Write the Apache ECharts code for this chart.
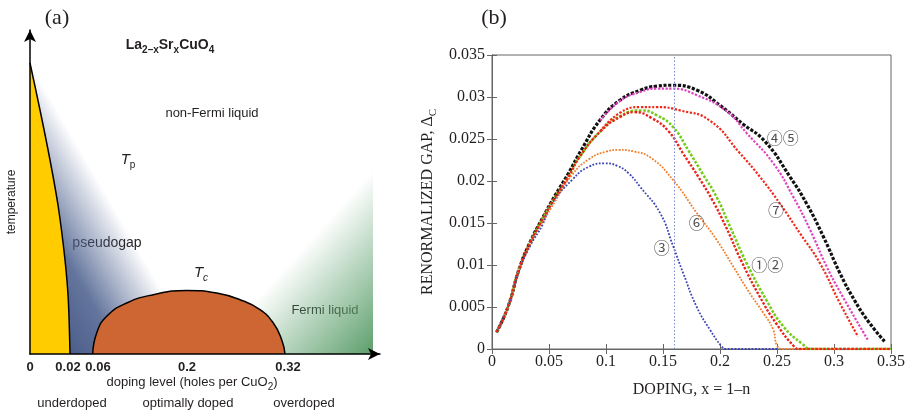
<!DOCTYPE html>
<html>
<head>
<meta charset="utf-8">
<script src="https://cdn.jsdelivr.net/npm/echarts@6/dist/echarts.min.js"></script>
<style>
  html, body { margin: 0; padding: 0; background: #fff; }
  #chart { width: 912px; height: 413px; }
</style>
</head>
<body>
<div id="chart"></div>
<script>
  // (a) schematic phase diagram - relative positions along the drawn axes
  var phaseTickPos = [0, 38, 68, 157, 258];
  var phaseTickText = ['0', '0.02', '0.06', '0.2', '0.32'];
  var afmEdge = [[0, 291], [10, 244], [20, 194], [28.3, 147], [35, 94], [38.3, 54], [40, 0]];
  var domeEdge = [[62.7, 0], [66.7, 21], [76.7, 37.7], [96.7, 51], [123.3, 59.3], [156.7, 63.6],
    [186.7, 61], [210, 54.3], [230, 44.3], [243.3, 31], [251.7, 14.3], [255, 0]];
  var pseudogapArea = [[0, 291], [10, 244], [20, 194], [28.3, 147], [35, 94], [38.3, 54], [40, 0],
    [62.7, 0], [66.7, 21], [76.7, 37.7], [96.7, 51], [123.3, 59.3], [140, 62]];
  var fermiArea = [[223, 51], [230, 44.3], [243.3, 31], [251.7, 14.3], [255, 0], [343, 0], [343, 184]];

  // (b) renormalized gap vs doping
  var optimalDoping = 0.16;
  var gapBlack = [[0.004, 0.002], [0.014, 0.005], [0.024, 0.0096], [0.034, 0.0129], [0.044, 0.0155],
    [0.055, 0.0182], [0.067, 0.0209], [0.078, 0.0236], [0.095, 0.0273], [0.112, 0.0296], [0.13, 0.0308],
    [0.145, 0.0313], [0.158, 0.0314], [0.18, 0.0308], [0.2, 0.029], [0.22, 0.0268], [0.2395, 0.0247],
    [0.2614, 0.0205], [0.276, 0.0173], [0.2906, 0.0134], [0.3053, 0.009], [0.318, 0.0058], [0.33, 0.0033],
    [0.345, 0.0008]];
  var gapMagenta = [[0.095, 0.0272], [0.112, 0.0295], [0.13, 0.0306], [0.145, 0.031], [0.158, 0.031],
    [0.18, 0.0302], [0.206, 0.0283], [0.2234, 0.0257], [0.2468, 0.0221], [0.2643, 0.0181], [0.279, 0.0142],
    [0.2936, 0.0098], [0.3053, 0.0068], [0.3296, 0.0011]];
  var gapGreen = [[0.004, 0.002], [0.014, 0.005], [0.024, 0.0096], [0.034, 0.0128], [0.044, 0.0154],
    [0.055, 0.018], [0.067, 0.0205], [0.077, 0.0229], [0.095, 0.0259], [0.112, 0.0277], [0.131, 0.0284],
    [0.145, 0.0278], [0.159, 0.0264], [0.172, 0.0237], [0.185, 0.0208], [0.197, 0.0181], [0.2087, 0.0146],
    [0.2234, 0.0102], [0.2408, 0.0058], [0.2555, 0.0027], [0.2722, 0.0006], [0.28, 0], [0.35, 0]];
  var gapOrange = [[0.004, 0.002], [0.014, 0.005], [0.024, 0.0095], [0.034, 0.0126], [0.044, 0.015],
    [0.055, 0.0175], [0.07, 0.0207], [0.085, 0.0226], [0.1, 0.0235], [0.111, 0.0237], [0.125, 0.0235],
    [0.14, 0.0227], [0.159, 0.0201], [0.1796, 0.0162], [0.197, 0.013], [0.2117, 0.0098], [0.2263, 0.0066],
    [0.238, 0.0043], [0.2467, 0.0023], [0.25, 0.0004], [0.255, 0], [0.35, 0]];
  var gapBlue = [[0.004, 0.002], [0.014, 0.005], [0.024, 0.0094], [0.034, 0.0124], [0.044, 0.0147],
    [0.052, 0.0172], [0.07, 0.0201], [0.085, 0.0217], [0.099, 0.0221], [0.11, 0.0218], [0.12, 0.0209],
    [0.13, 0.0193], [0.1474, 0.0162], [0.159, 0.0122], [0.1678, 0.009], [0.1796, 0.005], [0.1912, 0.0023],
    [0.2015, 0.0003], [0.205, 0], [0.25, 0]];
  var gapRed7 = [[0.095, 0.0259], [0.112, 0.0281], [0.13, 0.0288], [0.145, 0.0288], [0.165, 0.0284],
    [0.191, 0.0272], [0.2175, 0.0233], [0.235, 0.0205], [0.2526, 0.0173], [0.27, 0.0138], [0.2877, 0.0102],
    [0.305, 0.0055], [0.321, 0.0015]];
  var gapRed1 = [[0.004, 0.002], [0.014, 0.005], [0.024, 0.0096], [0.034, 0.0128], [0.044, 0.0154],
    [0.055, 0.018], [0.067, 0.0205], [0.077, 0.0229], [0.095, 0.0259], [0.112, 0.0276], [0.125, 0.0282],
    [0.14, 0.0275], [0.155, 0.0259], [0.168, 0.0232], [0.181, 0.0205], [0.193, 0.0178], [0.205, 0.0146],
    [0.219, 0.0104], [0.235, 0.0062], [0.249, 0.0031], [0.265, 0.0003], [0.27, 0], [0.35, 0]];
  var curveTags = [[0.2551, 0.0251, '④⑤'], [0.2491, 0.0165, '⑦'], [0.1795, 0.015, '⑥'],
    [0.1488, 0.012, '③'], [0.2415, 0.01, '①②']];

  var sans = 'Liberation Sans, Arial, sans-serif';
  var serif = 'Liberation Serif, Times New Roman, serif';
  var ink = '#231f20';
  var frame = '#666';

  function region(points, fade, stops) {
    return function (params, api) {
      if (params.dataIndex !== 0) return;
      var pts = points.map(function (p) { return api.coord(p); });
      var a = api.coord(fade[0]);
      var b = api.coord(fade[1]);
      return {
        type: 'polygon',
        shape: { points: pts },
        style: { fill: new echarts.graphic.LinearGradient(a[0], a[1], b[0], b[1], stops, true) }
      };
    };
  }

  function gapLine(name, data, color, width, dash) {
    return {
      name: name, type: 'line', xAxisIndex: 1, yAxisIndex: 1, data: data,
      showSymbol: false, smooth: 0.5, silent: true,
      lineStyle: { color: color, width: width, type: dash }
    };
  }

  function txt(x, y, text, font, extra) {
    var el = { type: 'text', x: x, y: y, style: { text: text, font: font, fill: ink, align: 'center', verticalAlign: 'middle' } };
    if (extra) {
      for (var k in extra) {
        if (k === 'rich') el.style.rich = extra[k]; else el[k] = extra[k];
      }
    }
    return el;
  }

  var subRich = {
    m: { fontSize: 14, fontFamily: sans, fontWeight: 'bold', fill: ink, verticalAlign: 'bottom', padding: [0, 0, 3, 0] },
    s: { fontSize: 10, fontFamily: sans, fontWeight: 'bold', fill: ink, verticalAlign: 'bottom' }
  };
  var tRich = {
    m: { fontSize: 15, fontFamily: sans, fontStyle: 'italic', fill: ink, verticalAlign: 'bottom', padding: [0, 0, 3, 0] },
    s: { fontSize: 10, fontFamily: sans, fill: ink, verticalAlign: 'bottom' },
    i: { fontSize: 10, fontFamily: sans, fontStyle: 'italic', fill: ink, verticalAlign: 'bottom' }
  };
  var dopRich = {
    m: { fontSize: 13, fontFamily: sans, fill: ink, verticalAlign: 'bottom', padding: [0, 0, 3, 0] },
    s: { fontSize: 10, fontFamily: sans, fill: ink, verticalAlign: 'bottom' }
  };

  var boxTick = { show: true, inside: true, length: 5, lineStyle: { color: frame } };
  var boxLine = { show: true, lineStyle: { color: frame } };

  var chart = echarts.init(document.getElementById('chart'));
  chart.setOption({
    animation: false,
    grid: [
      { left: 30, top: 30, width: 350, height: 324 },
      { left: 492, top: 55, width: 399, height: 294, show: true, borderColor: frame, borderWidth: 1, backgroundColor: 'transparent' }
    ],
    xAxis: [
      {
        gridIndex: 0, type: 'value', min: 0, max: 350, z: 10,
        axisLine: { show: true, lineStyle: { color: '#000', width: 1.5 }, symbol: ['none', 'arrow'], symbolSize: [9, 12] },
        axisTick: { show: false },
        splitLine: { show: false },
        axisLabel: {
          customValues: phaseTickPos, margin: 7, color: ink, fontFamily: sans, fontWeight: 'bold', fontSize: 13,
          formatter: function (v) { return phaseTickText[phaseTickPos.indexOf(v)]; }
        }
      },
      {
        gridIndex: 1, type: 'value', min: 0, max: 0.35, interval: 0.05,
        axisLine: boxLine, axisTick: boxTick, splitLine: { show: false },
        axisLabel: { color: ink, fontFamily: serif, fontSize: 16, margin: 5 },
        name: 'DOPING, x = 1–n', nameLocation: 'middle', nameGap: 33,
        nameTextStyle: { color: ink, fontFamily: serif, fontSize: 16 }
      },
      {
        gridIndex: 1, type: 'value', min: 0, max: 0.35, interval: 0.05, position: 'top',
        axisLine: boxLine, axisTick: boxTick, splitLine: { show: false }, axisLabel: { show: false }
      }
    ],
    yAxis: [
      {
        gridIndex: 0, type: 'value', min: 0, max: 324, z: 10,
        axisLine: { show: true, lineStyle: { color: '#000', width: 1.5 }, symbol: ['none', 'arrow'], symbolSize: [9, 12] },
        axisTick: { show: false }, axisLabel: { show: false }, splitLine: { show: false }
      },
      {
        gridIndex: 1, type: 'value', min: 0, max: 0.035, interval: 0.005,
        axisLine: boxLine, axisTick: boxTick, splitLine: { show: false },
        axisLabel: { color: ink, fontFamily: serif, fontSize: 16, margin: 7 },
        name: '{t|RENORMALIZED GAP, Δ}{s|C}', nameLocation: 'middle', nameGap: 53, nameRotate: 90,
        nameTextStyle: {
          rich: {
            t: { fontFamily: serif, fontSize: 16, color: ink, verticalAlign: 'bottom', padding: [0, 0, 3, 0] },
            s: { fontFamily: serif, fontSize: 11, color: ink, verticalAlign: 'bottom' }
          }
        }
      },
      {
        gridIndex: 1, type: 'value', min: 0, max: 0.035, interval: 0.005, position: 'right',
        axisLine: boxLine, axisTick: boxTick, splitLine: { show: false }, axisLabel: { show: false }
      }
    ],
    series: [
      {
        type: 'custom', xAxisIndex: 0, yAxisIndex: 0, data: pseudogapArea, silent: true, z: 1,
        renderItem: region(pseudogapArea, [[136.6, 56.2], [40, 0]],
          [{ offset: 0, color: 'rgba(78,98,143,0)' }, { offset: 0.12, color: 'rgba(78,98,143,0.18)' },
           { offset: 0.6, color: 'rgba(78,98,143,0.88)' }, { offset: 1, color: '#4b5d8a' }])
      },
      {
        type: 'custom', xAxisIndex: 0, yAxisIndex: 0, data: fermiArea, silent: true, z: 1,
        renderItem: region(fermiArea, [[251.5, 82.6], [343, 0]],
          [{ offset: 0, color: 'rgba(96,162,112,0)' }, { offset: 0.4, color: 'rgba(96,162,112,0.42)' }, { offset: 1, color: '#5c9e6a' }])
      },
      {
        type: 'line', xAxisIndex: 0, yAxisIndex: 0, data: afmEdge, smooth: 0.3, showSymbol: false, silent: true, z: 3,
        lineStyle: { color: '#000', width: 1.5 }, areaStyle: { color: '#ffcc00', opacity: 1 }
      },
      {
        type: 'line', xAxisIndex: 0, yAxisIndex: 0, data: domeEdge, smooth: true, showSymbol: false, silent: true, z: 3,
        lineStyle: { color: '#000', width: 1.5 }, areaStyle: { color: '#cd6633', opacity: 1 }
      },
      gapLine('black', gapBlack, '#111111', 3.2, [3.2, 1.6]),
      gapLine('magenta', gapMagenta, '#e23fbe', 2.2, [2.2, 1.6]),
      gapLine('green', gapGreen, '#74cc18', 2.6, [2.6, 1.6]),
      gapLine('orange', gapOrange, '#f07d2c', 1.8, [1.8, 1.4]),
      gapLine('blue', gapBlue, '#3b44b3', 1.8, [1.8, 1.6]),
      gapLine('red7', gapRed7, '#ee2a1c', 2.2, [2.2, 1.6]),
      (function () {
        var s = gapLine('red1', gapRed1, '#e8231a', 2.4, [2.4, 1.6]);
        s.markLine = {
          silent: true, symbol: 'none', label: { show: false },
          lineStyle: { color: '#7f8ad6', type: [1.5, 2], width: 1 },
          data: [{ xAxis: optimalDoping }]
        };
        return s;
      })(),
      {
        type: 'scatter', xAxisIndex: 1, yAxisIndex: 1, data: curveTags, symbolSize: 0, silent: true, z: 5,
        label: {
          show: true, position: 'inside', color: ink, fontSize: 16,
          fontFamily: 'Noto Sans CJK JP, DejaVu Sans, sans-serif',
          formatter: function (p) { return p.value[2]; }
        }
      }
    ],
    graphic: [
      txt(57, 18, '(a)', '22px ' + serif),
      txt(494, 18, '(b)', '22px ' + serif),
      txt(170, 47, '{m|La}{s|2–x}{m|Sr}{s|x}{m|CuO}{s|4}', '', { rich: subRich }),
      txt(212, 113, 'non-Fermi liquid', '13px ' + sans),
      txt(128, 161, '{m|T}{s|p}', '', { rich: tRich }),
      txt(107, 243, 'pseudogap', '14px ' + sans),
      txt(47, 278, 'antiferromagnetic', '13px ' + sans, { rotation: Math.PI / 2 }),
      txt(201, 274, '{m|T}{i|c}', '', { rich: tRich }),
      txt(194, 328, 'superconducting', '13px ' + sans),
      txt(325, 310, 'Fermi liquid', '13px ' + sans),
      txt(12, 202, 'temperature', '12px ' + sans, { rotation: Math.PI / 2 }),
      txt(192, 384, '{m|doping level (holes per CuO}{s|2}{m|)}', '', { rich: dopRich }),
      txt(72, 403, 'underdoped', '13px ' + sans),
      txt(188, 403, 'optimally doped', '13px ' + sans),
      txt(304, 403, 'overdoped', '13px ' + sans)
    ]
  });
</script>
</body>
</html>
